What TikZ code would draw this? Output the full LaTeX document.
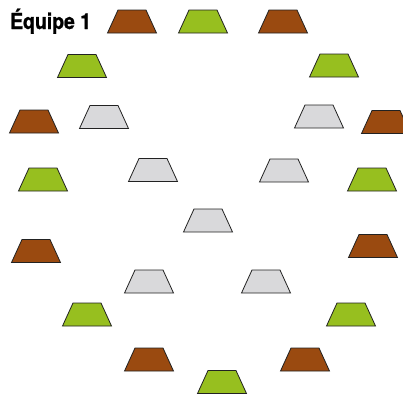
\documentclass[tikz,border=0pt]{standalone}
\usepackage{fontspec}
\setmainfont{TeX Gyre Heros}
\newfontfamily\titrefont[FakeBold=1.2]{TeX Gyre Heros Bold}
\definecolor{brun}{HTML}{9A4A10}
\definecolor{vert}{HTML}{97BF1F}
\definecolor{gris}{HTML}{D9D9DB}
\definecolor{bord}{HTML}{222222}
\tikzset{
  trap/.style={draw=bord, line width=0.8pt, line join=miter},
}
\newcommand{\trapz}[4]{%
  \coordinate (#2) at (#3,#4);
  \filldraw[trap, fill=#1, shift={(#2)}] (-24.5,11.5) -- (24.5,11.5) -- (14,-11.5) -- (-14,-11.5) -- cycle;}
\begin{document}
\begin{tikzpicture}[x=1pt,y=-1pt]
\useasboundingbox (0,0) rectangle (403,394);
\clip (0,0) rectangle (403,394);
\node[anchor=base west, inner sep=0pt, font=\titrefont\fontsize{22}{24}\selectfont] (titre) at (10,29) {\scalebox{0.88}[1]{Équipe 1}};
% row 1
\trapz{brun}{b1}{132}{21.5}
\trapz{vert}{g1}{203}{21.5}
\trapz{brun}{b2}{283}{21.5}
% row 2
\trapz{vert}{g2}{82}{66}
\trapz{vert}{g3}{334}{65.5}
% row 3
\trapz{brun}{b3}{34}{121.5}
\trapz{gris}{r1}{104}{117}
\trapz{gris}{r2}{319}{116.5}
\trapz{brun}{b4}{386}{122}
% row 4
\trapz{vert}{g4}{43}{179.5}
\trapz{gris}{r3}{153}{170}
\trapz{gris}{r4}{284}{170.5}
\trapz{vert}{g5}{372}{179.5}
% row 5
\trapz{gris}{r5}{208}{220.5}
\trapz{brun}{b5}{36}{251}
\trapz{brun}{b6}{373}{246}
% row 6
\trapz{gris}{r6}{149}{281.5}
\trapz{gris}{r7}{266}{281.5}
% row 7
\trapz{vert}{g6}{87}{314.5}
\trapz{vert}{g7}{351}{314.5}
% row 8
\trapz{brun}{b7}{149}{359.5}
\trapz{brun}{b8}{305}{359.5}
\trapz{vert}{g8}{222}{382}
\end{tikzpicture}
\end{document}
